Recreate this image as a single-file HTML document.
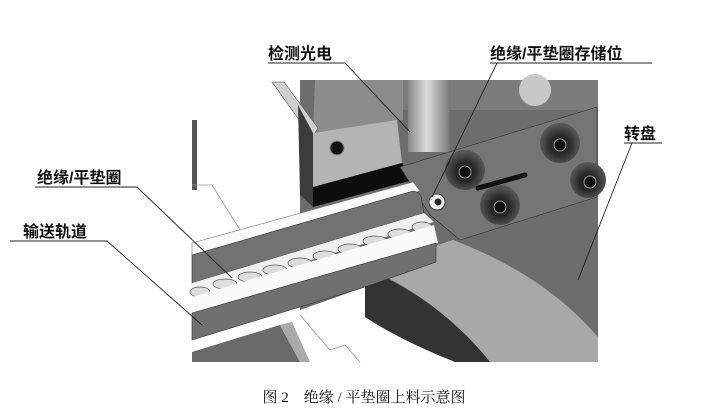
<!DOCTYPE html>
<html><head><meta charset="utf-8"><style>
body{margin:0;background:#fff;}
svg{display:block}
text{font-family:"Liberation Sans","Noto Sans CJK SC",sans-serif;font-weight:bold;font-size:16px;fill:#111}
</style></head><body>
<svg width="728" height="413" viewBox="0 0 728 413" xmlns="http://www.w3.org/2000/svg">
<defs>
<radialGradient id="cs" cx="50%" cy="55%" r="50%">
<stop offset="0" stop-color="#111"/><stop offset="0.5" stop-color="#2a2a2a"/><stop offset="1" stop-color="#555"/></radialGradient>
<linearGradient id="cyl" x1="0" x2="1"><stop offset="0" stop-color="#888"/><stop offset="0.45" stop-color="#ddd"/><stop offset="1" stop-color="#777"/></linearGradient>
</defs>
<!-- backdrop -->
<polygon points="300,80 598,80 598,362 455,362 365,317 365,287 300,310" fill="#6d6d6d"/>
<rect x="315" y="80" width="283" height="30" fill="#7c7c7c"/>
<circle cx="535" cy="90" r="16" fill="#c8c8c8"/>
<polygon points="315,80 403,80 403,120 313,133" fill="#8c8c8c"/>
<rect x="408" y="80" width="42" height="72" fill="url(#cyl)"/>
<!-- bracket -->
<polygon points="272,82 284,82 318,128 312,138" fill="#cfcfcf" stroke="#555" stroke-width="0.6"/>
<!-- dark left side -->
<polygon points="298,105 313,133 313,207 300,195" fill="#3c3c3c"/>
<!-- block light face -->
<polygon points="313,133 397,120 402,163 313,187" fill="#b4b4b4"/>
<circle cx="337" cy="148" r="7" fill="#111" stroke="#888"/>
<polygon points="313,187 402,163 413,180 313,207" fill="#0d0d0d"/>
<!-- raised plate -->
<polygon points="400,167 597,107 597,197 460,240 430,215" fill="#757575" stroke="#333" stroke-width="0.6"/>
<circle cx="465" cy="170" r="20" fill="url(#cs)"/><circle cx="465" cy="172" r="6" fill="#111" stroke="#999"/>
<circle cx="560" cy="143" r="20" fill="url(#cs)"/><circle cx="560" cy="145" r="6" fill="#111" stroke="#999"/>
<circle cx="588" cy="180" r="18" fill="url(#cs)"/><circle cx="590" cy="182" r="6" fill="#111" stroke="#999"/>
<circle cx="500" cy="205" r="20" fill="url(#cs)"/><circle cx="500" cy="207" r="6" fill="#111" stroke="#999"/>
<line x1="478" y1="188" x2="525" y2="175" stroke="#111" stroke-width="5" stroke-linecap="round"/>
<circle cx="437" cy="202" r="8" fill="#eee" stroke="#444"/><circle cx="438" cy="202" r="3.5" fill="#222"/>
<!-- lower right block -->
<path d="M367,268 L453,240 Q545,275 598,337 L598,362 L490,362 Q440,300 367,268 Z" fill="#a8a8a8"/>
<path d="M365,268 Q440,300 490,362 L455,362 Q400,340 365,317 Z" fill="#333"/>
<!-- left white scenery -->
<rect x="192" y="120" width="5" height="70" fill="#555"/>
<polyline points="192,185 212,185 240,230" fill="none" stroke="#999" stroke-width="0.8"/>
<!-- track -->
<polygon points="192,243 413,182 420,191 192,255" fill="#fafafa" stroke="#777" stroke-width="0.6"/>
<path d="M192,255 L413,191 Q422,192 422,202 L424,213 L192,283 Z" fill="#727272" stroke="#333" stroke-width="0.6"/>
<polygon points="192,283 424,213 434,222 192,297" fill="#f0f0f0"/>
<g fill="#ddd" stroke="#555" stroke-width="0.7">
<ellipse cx="200" cy="292" rx="10" ry="5"/><ellipse cx="225" cy="284" rx="12" ry="5"/><ellipse cx="250" cy="277" rx="12" ry="5"/><ellipse cx="275" cy="270" rx="12" ry="5"/><ellipse cx="300" cy="263" rx="12" ry="5"/><ellipse cx="325" cy="256" rx="12" ry="5"/><ellipse cx="350" cy="249" rx="12" ry="5"/><ellipse cx="375" cy="241" rx="12" ry="5"/><ellipse cx="400" cy="234" rx="12" ry="5"/><ellipse cx="422" cy="227" rx="10" ry="5"/>
</g>
<polygon points="192,297 434,225 438,243 192,313" fill="#fafafa"/>
<polygon points="192,313 436,243 436,262 365,287 192,340" fill="#707070" stroke="#333" stroke-width="0.6"/>
<polygon points="192,352 280,325 300,362 192,362" fill="#6a6a6a"/>
<polygon points="280,325 300,362 310,362 292,322" fill="#aaa"/>
<polyline points="300,315 330,350 345,345 360,362" fill="none" stroke="#999" stroke-width="0.8"/>
<!-- leaders -->
<g stroke="#222" stroke-width="0.9" fill="none">
<polyline points="268,63 345,63 410,132"/>
<polyline points="490,63 652,63"/><line x1="497" y1="63" x2="432" y2="197"/>
<polyline points="624,143 662,143"/><line x1="632" y1="143" x2="578" y2="280"/>
<polyline points="35,187 137,187 232,278"/>
<polyline points="10,241 107,241 202,325"/>
</g>
<text x="268" y="59">检测光电</text>
<text x="490" y="59">绝缘/平垫圈存储位</text>
<text x="624" y="139">转盘</text>
<text x="37" y="183">绝缘/平垫圈</text>
<text x="23" y="237">输送轨道</text>
<text x="364" y="402" text-anchor="middle" style="font-family:'Liberation Serif','Noto Serif CJK SC',serif;font-weight:normal;font-size:15px">图 2　绝缘 / 平垫圈上料示意图</text>
</svg>
</body></html>
